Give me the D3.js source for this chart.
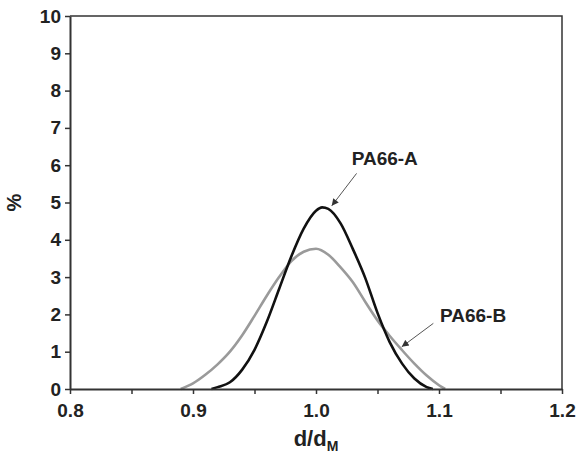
<!DOCTYPE html>
<html>
<head>
<meta charset="utf-8">
<script src="https://cdn.jsdelivr.net/npm/d3@7"></script>
<style>
  body { margin: 0; background: #fff; }
  text { font-family: "Liberation Sans", Arial, sans-serif; font-weight: bold; }
</style>
</head>
<body>
<div class="vis"></div>
<script>
// PA66-A (black curve)
const ratioA = [0.915, 0.92, 0.93, 0.94, 0.95, 0.96, 0.97, 0.98, 0.99, 1.00, 1.005, 1.01, 1.02, 1.03, 1.04, 1.05, 1.06, 1.07, 1.08, 1.09, 1.095];
const pctA   = [0,     0.05, 0.18, 0.52, 1.05, 1.80, 2.68, 3.56, 4.30, 4.78, 4.87,  4.83, 4.44, 3.75, 2.98, 2.04, 1.25, 0.68, 0.28, 0.05, 0];

// PA66-B (grey curve)
const ratioB = [0.89, 0.90, 0.91, 0.92, 0.93, 0.94, 0.95, 0.96, 0.97, 0.98, 0.99, 1.00, 1.01, 1.02, 1.03, 1.04, 1.05, 1.06, 1.07, 1.08, 1.09, 1.10, 1.105];
const pctB   = [0,    0.15, 0.38, 0.66, 1.00, 1.44, 1.96, 2.50, 3.00, 3.43, 3.68, 3.76, 3.60, 3.26, 2.86, 2.34, 1.84, 1.42, 1.04, 0.68, 0.36, 0.10, 0];

const xTicks = [0.8, 0.9, 1.0, 1.1, 1.2];
const xMinorTicks = [0.85, 0.95, 1.05, 1.15];
const yTicks = [0, 1, 2, 3, 4, 5, 6, 7, 8, 9, 10];

createChart();

function createChart() {
    const margin = { top: 16, right: 17, bottom: 68, left: 70 };
    const width = 579 - margin.left - margin.right,
        height = 457 - margin.top - margin.bottom;

    const svg = d3.select('.vis')
        .append('svg')
        .attr('width', width + margin.left + margin.right)
        .attr('height', height + margin.top + margin.bottom)
        .append('g')
        .attr('transform', 'translate(' + margin.left + ',' + margin.top + ')');

    const x = d3.scaleLinear().domain([0.8, 1.2]).range([0, width]);
    const y = d3.scaleLinear().domain([0, 10]).range([height, 0]);

    const axisColor = '#333';

    // frame (top and right)
    svg.append('path')
        .attr('d', 'M0,0H' + width + 'V' + height)
        .attr('fill', 'none')
        .attr('stroke', axisColor)
        .attr('stroke-width', 1.5);

    // curves
    const line = d3.line()
        .x(d => x(d[0]))
        .y(d => y(d[1]))
        .curve(d3.curveMonotoneX);

    svg.append('path')
        .datum(ratioB.map((r, i) => [r, pctB[i]]))
        .attr('d', line)
        .attr('fill', 'none')
        .attr('stroke', '#9a9a9a')
        .attr('stroke-width', 2.6);

    svg.append('path')
        .datum(ratioA.map((r, i) => [r, pctA[i]]))
        .attr('d', line)
        .attr('fill', 'none')
        .attr('stroke', '#111')
        .attr('stroke-width', 2.6);

    // x axis
    svg.append('g')
        .attr('transform', 'translate(0,' + height + ')')
        .call(d3.axisBottom(x).tickValues(xTicks).tickFormat(d3.format('.1f'))
            .tickSize(5).tickPadding(10).tickSizeOuter(0));
    svg.append('g')
        .attr('transform', 'translate(0,' + height + ')')
        .call(d3.axisBottom(x).tickValues(xMinorTicks).tickFormat('')
            .tickSize(5).tickSizeOuter(0))
        .select('.domain').remove();

    // y axis
    svg.append('g')
        .call(d3.axisLeft(y).tickValues(yTicks).tickFormat(d3.format('d'))
            .tickSize(5).tickPadding(4).tickSizeOuter(0));

    svg.selectAll('.domain').attr('stroke', axisColor).attr('stroke-width', 2);
    svg.selectAll('.tick line').attr('stroke', axisColor).attr('stroke-width', 1.5);
    svg.selectAll('.tick text')
        .attr('fill', '#222')
        .style('font-size', '19px')
        .style('font-family', '"Liberation Sans", Arial, sans-serif')
        .style('font-weight', 'bold');

    // axis titles
    const xTitle = svg.append('text')
        .attr('x', x(1.0))
        .attr('y', height + 57)
        .attr('text-anchor', 'middle')
        .attr('fill', '#222')
        .style('font-size', '22px');
    xTitle.append('tspan').text('d/d');
    xTitle.append('tspan').text('M').attr('dy', 5).style('font-size', '14px');

    svg.append('text')
        .attr('transform', 'translate(' + (-49) + ',' + y(5.0) + ') rotate(-90)')
        .attr('text-anchor', 'middle')
        .attr('fill', '#222')
        .style('font-size', '20px')
        .text('%');

    // annotations (data coordinates)
    const notes = [
        { label: 'PA66-A', tx: 1.029, ty: 6.0, from: [1.033, 5.78], to: [1.0128, 4.91] },
        { label: 'PA66-B', tx: 1.1008, ty: 1.80, from: [1.0954, 1.76], to: [1.0697, 1.13] }
    ];

    svg.append('defs').append('marker')
        .attr('id', 'arrow')
        .attr('viewBox', '0 0 10 10')
        .attr('refX', 10).attr('refY', 5)
        .attr('markerWidth', 9).attr('markerHeight', 7)
        .attr('markerUnits', 'userSpaceOnUse')
        .attr('orient', 'auto')
        .append('path')
        .attr('d', 'M0,0L10,5L0,10z')
        .attr('fill', '#333');

    svg.selectAll('.note-line')
        .data(notes)
        .join('line')
        .attr('x1', d => x(d.from[0]))
        .attr('y1', d => y(d.from[1]))
        .attr('x2', d => x(d.to[0]))
        .attr('y2', d => y(d.to[1]))
        .attr('stroke', '#555')
        .attr('stroke-width', 1)
        .attr('marker-end', 'url(#arrow)');

    svg.selectAll('.note-text')
        .data(notes)
        .join('text')
        .attr('x', d => x(d.tx))
        .attr('y', d => y(d.ty))
        .attr('fill', '#222')
        .style('font-size', '19px')
        .text(d => d.label);
}
</script>
</body>
</html>
